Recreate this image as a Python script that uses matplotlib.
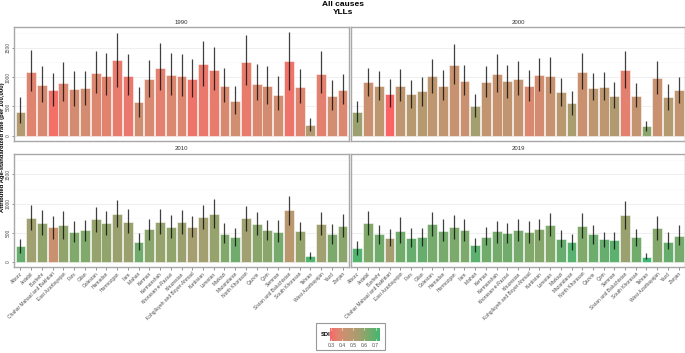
import numpy as np
import matplotlib
matplotlib.use("Agg")
import matplotlib.pyplot as plt
from matplotlib.colors import LinearSegmentedColormap, Normalize
from matplotlib.patches import Rectangle

plt.rcParams['font.family'] = ['Liberation Sans', 'DejaVu Sans']

provinces = ["Alborz", "Ardebil", "Bushehr", "Chahar Mahaal and Bakhtiari", "East Azarbayejan",
             "Fars", "Gilan", "Golestan", "Hamadan", "Hormozgan", "Ilam", "Isfahan", "Kerman",
             "Kermanshah", "Khorasan-e-Razavi", "Khuzestan", "Kohgiluyeh and Boyer-Ahmad",
             "Kurdistan", "Lorestan", "Markazi", "Mazandaran", "North Khorasan", "Qazvin", "Qom",
             "Semnan", "Sistan and Baluchistan", "South Khorasan", "Tehran", "West Azarbayejan",
             "Yazd", "Zanjan"]
years = ["1990", "2000", "2010", "2019"]

val_1990 = [410, 1090, 865, 775, 894, 798, 815, 1073, 1017, 1298, 1017, 568, 967, 1158, 1040, 1017,
            972, 1220, 1113, 849, 596, 1248, 882, 849, 691, 1265, 826, 185, 1057, 674, 787]
low_1990 = [220, 770, 568, 511, 590, 500, 528, 736, 697, 837, 686, 326, 652, 781, 697, 680,
            663, 843, 776, 568, 377, 865, 601, 545, 444, 781, 562, 84, 731, 433, 540]
up_1990 = [657, 1467, 1186, 1062, 1253, 1107, 1107, 1450, 1405, 1753, 1388, 826, 1298, 1574, 1416, 1399,
           1315, 1618, 1512, 1158, 843, 1714, 1220, 1180, 1012, 1759, 1135, 303, 1439, 950, 1051]
sdi_1990 = [0.50, 0.36, 0.38, 0.31, 0.37, 0.39, 0.39, 0.37, 0.36, 0.34, 0.33, 0.41, 0.38, 0.35, 0.37, 0.37,
            0.32, 0.33, 0.34, 0.38, 0.40, 0.34, 0.38, 0.39, 0.40, 0.32, 0.36, 0.50, 0.35, 0.40, 0.37]

val_2000 = [405, 916, 843, 719, 843, 708, 764, 1023, 843, 1203, 933, 511, 916, 1045, 927, 967,
            843, 1040, 1023, 742, 562, 1085, 821, 832, 680, 1113, 680, 169, 989, 652, 781]
low_2000 = [230, 680, 601, 489, 584, 478, 511, 736, 601, 888, 686, 326, 658, 747, 646, 686,
            590, 770, 731, 506, 360, 798, 601, 601, 466, 809, 483, 79, 714, 444, 562]
up_2000 = [590, 1152, 1096, 961, 1130, 955, 1000, 1315, 1118, 1568, 1203, 714, 1191, 1399, 1203, 1276,
           1118, 1332, 1338, 989, 764, 1405, 1073, 1085, 910, 1439, 899, 253, 1270, 888, 1006]
sdi_2000 = [0.57, 0.42, 0.47, 0.29, 0.46, 0.49, 0.49, 0.46, 0.45, 0.43, 0.42, 0.55, 0.45, 0.43, 0.45, 0.44,
            0.38, 0.39, 0.43, 0.48, 0.53, 0.42, 0.47, 0.47, 0.51, 0.35, 0.44, 0.60, 0.42, 0.50, 0.45]

val_2010 = [275, 759, 674, 590, 629, 511, 545, 731, 663, 815, 691, 348, 556, 680, 590, 680,
            601, 764, 826, 483, 427, 747, 652, 551, 517, 882, 523, 107, 652, 478, 613]
low_2010 = [152, 551, 466, 393, 399, 337, 360, 511, 466, 590, 489, 208, 377, 483, 410, 478,
            427, 556, 584, 326, 270, 534, 461, 371, 343, 641, 371, 51, 466, 309, 422]
up_2010 = [393, 978, 894, 787, 871, 708, 725, 950, 871, 1068, 905, 489, 742, 910, 804, 888,
           792, 983, 1085, 663, 579, 967, 849, 714, 714, 1130, 691, 169, 860, 658, 815]
sdi_2010 = [0.67, 0.56, 0.59, 0.42, 0.59, 0.62, 0.62, 0.58, 0.59, 0.57, 0.57, 0.65, 0.60, 0.58, 0.59, 0.57,
            0.54, 0.55, 0.58, 0.62, 0.65, 0.56, 0.60, 0.60, 0.64, 0.48, 0.58, 0.71, 0.56, 0.63, 0.60]

val_2019 = [230, 663, 478, 416, 528, 416, 421, 646, 534, 596, 545, 292, 433, 523, 489, 545,
            511, 568, 635, 388, 337, 618, 483, 388, 371, 798, 421, 90, 579, 348, 450]
low_2019 = [118, 466, 315, 275, 326, 258, 270, 444, 354, 393, 365, 174, 281, 326, 326, 354,
            326, 382, 438, 247, 197, 416, 315, 253, 225, 568, 270, 45, 382, 225, 298]
up_2019 = [354, 877, 641, 568, 764, 584, 584, 854, 731, 804, 736, 410, 596, 708, 663, 731,
           708, 742, 832, 540, 478, 837, 635, 511, 511, 1051, 568, 146, 781, 506, 629]
sdi_2019 = [0.71, 0.62, 0.65, 0.54, 0.65, 0.67, 0.67, 0.64, 0.64, 0.63, 0.63, 0.69, 0.65, 0.64, 0.65, 0.64,
            0.62, 0.61, 0.62, 0.67, 0.70, 0.62, 0.66, 0.67, 0.69, 0.57, 0.65, 0.74, 0.61, 0.67, 0.64]

values = [val_1990, val_2000, val_2010, val_2019]
lowers = [low_1990, low_2000, low_2010, low_2019]
uppers = [up_1990, up_2000, up_2010, up_2019]
sdis = [sdi_1990, sdi_2000, sdi_2010, sdi_2019]
sdi_ticks = [0.3, 0.4, 0.5, 0.6, 0.7]

# SDI colour gradient (red -> tan -> green), anchored on SDI values
vmin, vmax = 0.29, 0.74
grad_stops = [(0.29, "#FA6464"), (0.31, "#F27068"), (0.33, "#EA786C"), (0.36, "#E08470"),
              (0.39, "#D48C70"), (0.42, "#CA9170"), (0.46, "#BE9670"), (0.50, "#B49A70"),
              (0.56, "#A0A070"), (0.59, "#90A46C"), (0.63, "#7CAA6C"), (0.67, "#68AE6E"),
              (0.71, "#52B46F"), (0.74, "#3EB872")]
cmap = LinearSegmentedColormap.from_list(
    "sdi", [((s - vmin) / (vmax - vmin), c) for s, c in grad_stops])
norm = Normalize(vmin=vmin, vmax=vmax)

W, H = 685, 353
fig = plt.figure(figsize=(W / 100, H / 100), dpi=100)


def px_axes(x0, y0, x1, y1, **kw):
    return fig.add_axes([x0 / W, 1 - y1 / H, (x1 - x0) / W, (y1 - y0) / H], **kw)


panel_boxes = [(14, 27, 349, 141), (351, 27, 685, 141), (14, 154, 349, 267), (351, 154, 685, 267)]
x = np.arange(len(provinces))
frame_col = "#A8A8A8"
txt_col = "#4D4D4D"

for i, (box, yr) in enumerate(zip(panel_boxes, years)):
    ax = px_axes(*box)
    v = np.array(values[i]); lo = np.array(lowers[i]); up = np.array(uppers[i])
    colors = cmap(norm(np.array(sdis[i])))
    for gy in [0, 500, 1000, 1500]:
        ax.axhline(gy, color="#EDEDED", lw=0.6, zorder=0)
    for gy in [250, 750, 1250, 1750]:
        ax.axhline(gy, color="#F7F7F7", lw=0.4, zorder=0)
    ax.bar(x, v, width=0.92, color=colors, edgecolor=(1, 1, 1, 0.6), linewidth=0.6, zorder=2)
    ax.vlines(x, lo, up, color="black", alpha=0.75, lw=0.9, zorder=3)
    ax.set_xlim(-0.6, len(provinces) - 0.4)
    ax.set_ylim(-88, 1851)
    for s in ax.spines.values():
        s.set_color(frame_col)
        s.set_linewidth(1.0)
    ax.set_yticks([0, 500, 1000, 1500])
    if i % 2 == 0:
        ax.set_yticklabels(["0", "500", "1000", "1500"], rotation=90, va="center",
                           fontsize=3.5, color=txt_col)
        ax.tick_params(axis="y", width=0.5, length=1.8, color="#666666", pad=0.8)
    else:
        ax.set_yticklabels([])
        ax.tick_params(axis="y", length=0)
    ax.set_xticks(x)
    if i >= 2:
        ax.set_xticklabels(provinces, rotation=45, ha="right", va="top", rotation_mode="anchor",
                           fontsize=3.5, color=txt_col)
        ax.tick_params(axis="x", width=0.5, length=1.8, color="#666666", pad=1.2)
    else:
        ax.set_xticklabels([])
        ax.tick_params(axis="x", length=0)
    cx = (box[0] + box[2]) / 2
    fig.text(cx / W, 1 - (box[1] - 5) / H, yr, ha="center", va="center", fontsize=4.3,
             color="#333333")

fig.text(0.5, 1 - 4 / H, "All causes", ha="center", va="center", fontsize=6, fontweight="bold")
fig.text(0.5, 1 - 12 / H, "YLLs", ha="center", va="center", fontsize=6, fontweight="bold")
fig.text(3 / W, 1 - 147 / H, "Attributed Age-standardized rate (per 100,000)", rotation=90,
         ha="center", va="center", fontsize=4.2, fontweight="bold")

# legend box
fig.patches.append(Rectangle((316 / W, 1 - 350 / H), 69 / W, 27 / H, transform=fig.transFigure,
                             facecolor="white", edgecolor="#999999", lw=0.8, zorder=-1))
fig.text(321 / W, 1 - 335 / H, "SDI", ha="left", va="center", fontsize=4.2, fontweight="bold")
cax = px_axes(330, 328, 380, 341, zorder=5)
grad = np.linspace(vmin, vmax, 256).reshape(1, -1)
cax.imshow(grad, aspect="auto", cmap=cmap, norm=norm, extent=[vmin, vmax, 0, 1])
cax.set_xlim(vmin, vmax)
cax.set_ylim(0, 1)
cax.set_yticks([])
cax.set_xticks(sdi_ticks)
cax.set_xticklabels([str(t) for t in sdi_ticks], fontsize=3.6, color=txt_col)
cax.tick_params(axis="x", length=0, pad=1.5)
for t in sdi_ticks:
    cax.plot([t, t], [0, 0.15], color="white", lw=0.4)
    cax.plot([t, t], [0.85, 1], color="white", lw=0.4)
for s in cax.spines.values():
    s.set_visible(False)

fig.savefig("out.png", dpi=100)
